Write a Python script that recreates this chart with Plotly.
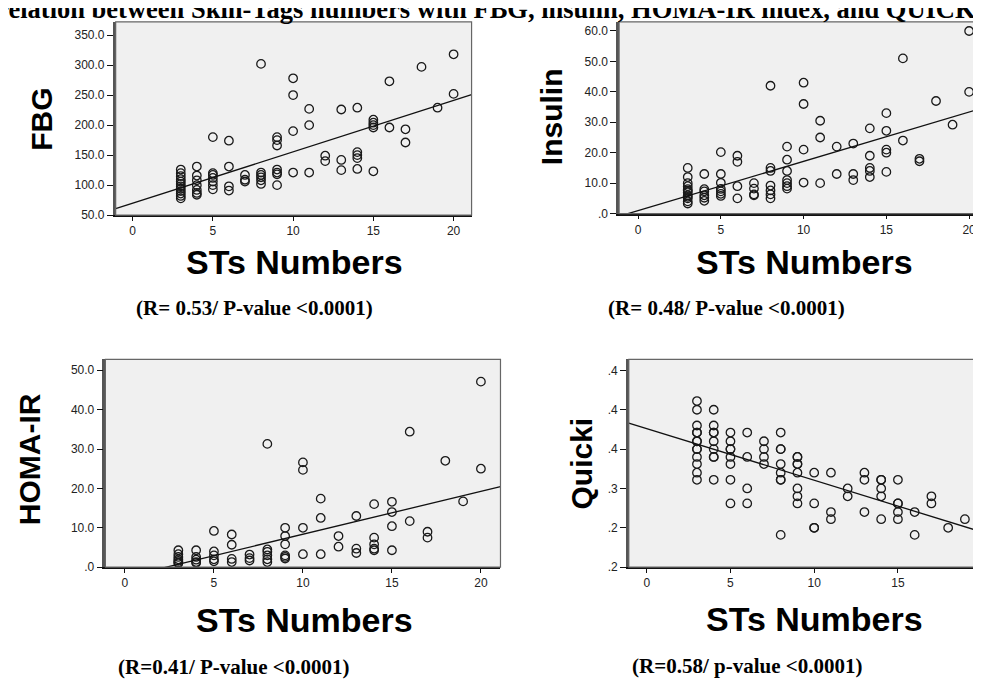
import plotly.graph_objects as go

W, H = 981, 680

# ---------------- data ----------------
fbg_sts = [3]*12 + [4]*7 + [5]*7 + [6]*4 + [7]*3 + [8]*6 + [9]*7 + [10]*4 + [11]*3 + [12]*2 + [13]*3 + [14]*5 + [15]*5 + [16]*2 + [17]*2 + [18] + [19] + [20]*2
fbg_values = [78, 82, 86, 90, 94, 98, 102, 106, 110, 115, 120, 126,
              84, 87, 92, 100, 108, 116, 131,
              180, 120, 117, 112, 106, 100, 93,
              174, 131, 98, 91,
              117, 109, 106,
              302, 121, 117, 113, 108, 102,
              180, 175, 166, 126, 121, 118, 100,
              278, 250, 190, 121,
              227, 200, 121,
              149, 140,
              226, 142, 125,
              229, 155, 150, 145, 127,
              209, 204, 200, 196, 123,
              273, 196,
              193, 171,
              297,
              229,
              318, 252]

ins_sts = [3]*12 + [4]*6 + [5]*7 + [6]*4 + [7]*4 + [8]*7 + [9]*7 + [10]*4 + [11]*3 + [12]*2 + [13]*3 + [14]*5 + [15]*5 + [16]*2 + [17]*2 + [18] + [19] + [20]*2
ins_values = [15, 12, 10, 9, 8, 7.5, 7, 6, 5.5, 5, 4, 3.3,
              13, 8, 7.3, 6, 5.2, 4.2,
              20.2, 13, 10.1, 8.1, 7.3, 6.5, 5.8,
              19, 17, 9, 5,
              10, 8.2, 6.3, 6,
              42, 15, 14, 9.2, 7.6, 6.3, 5,
              22, 17.7, 14, 11, 10, 9, 8.2,
              43, 36, 21, 10.2,
              30.5, 25, 10,
              22, 13,
              23, 13, 11,
              28, 19, 15, 14, 12,
              33, 27.2, 21, 20, 13.7,
              51, 24,
              18, 17.2,
              37,
              29.2,
              60, 40]

homa_sts = [3]*7 + [4]*5 + [5]*5 + [6]*4 + [7]*3 + [8]*6 + [9]*6 + [10]*4 + [11]*3 + [12]*2 + [13]*3 + [14]*5 + [15]*4 + [16]*2 + [17]*2 + [18] + [19] + [20]*2
homa_values = [4.3, 3.3, 2.6, 2.0, 1.6, 1.2, 1.0,
               4.3, 2.6, 1.9, 1.3, 1.1,
               9.2, 4.0, 3.0, 2.0, 1.5,
               8.3, 5.7, 2.1, 1.3,
               3.2, 2.3, 1.7,
               31.3, 4.5, 3.9, 3.0, 2.0, 1.3,
               10.0, 7.9, 5.8, 3.0, 2.6, 2.2,
               26.6, 24.7, 10.0, 3.3,
               17.4, 12.5, 3.3,
               7.9, 5.2,
               13.0, 4.7, 3.6,
               16.0, 7.5, 5.8, 4.7, 4.3,
               16.6, 14.0, 10.4, 4.3,
               34.4, 11.7,
               9.0, 7.5,
               27.0,
               16.7,
               47.1, 25.0]

quicki_sts = [3]*13 + [4]*9 + [5]*8 + [6]*4 + [7]*4 + [8]*8 + [9]*8 + [10]*4 + [11]*3 + [12]*2 + [13]*3 + [14]*5 + [15]*5 + [16]*2 + [17]*2 + [18] + [19] + [20]*2
quicki_values = [0.411, 0.400, 0.380, 0.371, 0.371, 0.360, 0.360, 0.350, 0.350, 0.340, 0.331, 0.320, 0.311,
                 0.400, 0.380, 0.371, 0.371, 0.360, 0.350, 0.340, 0.340, 0.311,
                 0.371, 0.360, 0.350, 0.350, 0.340, 0.331, 0.311, 0.281,
                 0.371, 0.340, 0.300, 0.281,
                 0.360, 0.350, 0.340, 0.331,
                 0.371, 0.350, 0.350, 0.331, 0.320, 0.311, 0.311, 0.241,
                 0.340, 0.340, 0.331, 0.331, 0.320, 0.300, 0.290, 0.281,
                 0.320, 0.281, 0.250, 0.250,
                 0.320, 0.270, 0.261,
                 0.300, 0.290,
                 0.320, 0.311, 0.270,
                 0.311, 0.311, 0.300, 0.290, 0.261,
                 0.311, 0.281, 0.281, 0.270, 0.261,
                 0.270, 0.241,
                 0.290, 0.281,
                 0.250,
                 0.261,
                 0.250, 0.230]

# fitted regression lines (intercept, slope)
fit_intercepts = [69.9, 0.97, -2.52, 0.376]
fit_slopes = [8.56, 1.62, 1.088, -0.00656]

y_titles = ["FBG", "Insulin", "HOMA-IR", "Quicki"]
x_title = "STs Numbers"
stats_texts = ["(R= 0.53/ P-value <0.0001)", "(R= 0.48/ P-value <0.0001)",
               "(R=0.41/ P-value <0.0001)", "(R=0.58/ p-value <0.0001)"]
main_title = "Correlation between Skin-Tags numbers with FBG, insulin, HOMA-IR index, and QUICKI"

x_tickvals = [0, 5, 10, 15, 20]
x_ticktext = ["0", "5", "10", "15", "20"]
fbg_tickvals = [50, 100, 150, 200, 250, 300, 350]
fbg_ticktext = ["50.0", "100.0", "150.0", "200.0", "250.0", "300.0", "350.0"]
ins_tickvals = [0, 10, 20, 30, 40, 50, 60]
ins_ticktext = [".0", "10.0", "20.0", "30.0", "40.0", "50.0", "60.0"]
homa_tickvals = [0, 10, 20, 30, 40, 50]
homa_ticktext = [".0", "10.0", "20.0", "30.0", "40.0", "50.0"]
quicki_tickvals = [0.20, 0.25, 0.30, 0.35, 0.40, 0.45]
quicki_ticktext = [".2", ".2", ".3", ".4", ".4", ".4"]

# ---------------- layout geometry (pixels) ----------------
def fx(p):
    return p / W

def fy(p):
    return 1 - p / H

panels = [
    dict(x=fbg_sts, y=fbg_values, xd=(108, 465), yd=(14, 209.3), xr=(-1.056, 21.12), yr=(50, 372),
         tv=fbg_tickvals, tt=fbg_ticktext,
         ytitle_pos=(34, 112), xtitle_pos=(287, 257), stats_pos=(247, 303)),
    dict(x=ins_sts, y=ins_values, xd=(613, 981), yd=(14, 207.7), xr=(-1.145, 21.02), yr=(0, 63),
         tv=ins_tickvals, tt=ins_ticktext,
         ytitle_pos=(546, 110), xtitle_pos=(799, 257), stats_pos=(721, 303)),
    dict(x=homa_sts, y=homa_values, xd=(97.7, 494), yd=(355, 565), xr=(-1.098, 21.1), yr=(0, 52.76),
         tv=homa_tickvals, tt=homa_ticktext,
         ytitle_pos=(21, 456), xtitle_pos=(297, 618), stats_pos=(227, 666)),
    dict(x=quicki_sts, y=quicki_values, xd=(622.7, 981), yd=(355, 565), xr=(-1.071, 20.26), yr=(0.20, 0.464),
         tv=quicki_tickvals, tt=quicki_ticktext,
         ytitle_pos=(575, 460), xtitle_pos=(809, 617), stats_pos=(741, 665)),
]

fig = go.Figure()
annotations = []
shapes = []
tickfont = dict(family="Liberation Sans, Arial", size=12, color="#222")

for i, p in enumerate(panels):
    n = "" if i == 0 else str(i + 1)
    xa, ya = "x" + n, "y" + n
    fig.add_trace(go.Scatter(
        x=p["x"], y=p["y"], mode="markers", xaxis=xa, yaxis=ya, showlegend=False,
        marker=dict(symbol="circle-open", size=8.5, color="#1a1a1a", line=dict(width=1.3, color="#1a1a1a")),
        cliponaxis=True))
    lx = [p["xr"][0], p["xr"][1]]
    ly = [fit_intercepts[i] + fit_slopes[i] * v for v in lx]
    fig.add_trace(go.Scatter(x=lx, y=ly, mode="lines", xaxis=xa, yaxis=ya, showlegend=False,
                             line=dict(color="#111", width=1.3)))
    fig.update_layout(**{
        "xaxis" + n: dict(domain=[fx(p["xd"][0]), min(1.0, fx(p["xd"][1]))], range=list(p["xr"]),
                          anchor=ya, tickvals=x_tickvals, ticktext=x_ticktext, showgrid=False,
                          zeroline=False, showline=True, linecolor="#111", linewidth=1.5,
                          ticks="outside", ticklen=4, tickcolor="#111", tickwidth=1.2,
                          tickfont=tickfont, ticklabeloverflow="allow", ticklabelstandoff=0),
        "yaxis" + n: dict(domain=[fy(p["yd"][1]), fy(p["yd"][0])], range=list(p["yr"]),
                          anchor=xa, tickvals=p["tv"], ticktext=p["tt"], showgrid=False,
                          zeroline=False, showline=True, linecolor="#555", linewidth=2.5,
                          ticks="outside", ticklen=6, tickcolor="#111", tickwidth=1.2,
                          tickfont=tickfont),
    })
    shapes.append(dict(type="rect", xref=xa + " domain", yref=ya + " domain", x0=0, x1=1, y0=0, y1=1,
                       line=dict(color="#666", width=1.2), fillcolor="rgba(0,0,0,0)", layer="above"))
    annotations.append(dict(text="<b>%s</b>" % y_titles[i], x=fx(p["ytitle_pos"][0]), y=fy(p["ytitle_pos"][1]),
                            xref="paper", yref="paper", showarrow=False, textangle=-90,
                            font=dict(family="Liberation Sans, Arial", size=30, color="#000"),
                            xanchor="center", yanchor="middle"))
    annotations.append(dict(text="<b>%s</b>" % x_title, x=fx(p["xtitle_pos"][0]), y=fy(p["xtitle_pos"][1]),
                            xref="paper", yref="paper", showarrow=False,
                            font=dict(family="Liberation Sans, Arial", size=34, color="#000"),
                            xanchor="center", yanchor="middle"))
    annotations.append(dict(text="<b>%s</b>" % stats_texts[i], x=fx(p["stats_pos"][0]), y=fy(p["stats_pos"][1]),
                            xref="paper", yref="paper", showarrow=False,
                            font=dict(family="Liberation Serif, Times New Roman", size=21, color="#000"),
                            xanchor="center", yanchor="middle"))

annotations.append(dict(text="<b>%s</b>" % main_title, x=fx(-57), y=fy(1), xref="paper", yref="paper",
                        showarrow=False, xanchor="left", yanchor="middle",
                        font=dict(family="Liberation Serif, Times New Roman", size=26.5, color="#000")))

fig.update_layout(width=W, height=H, margin=dict(l=0, r=0, t=0, b=0),
                  paper_bgcolor="white", plot_bgcolor="#f0f0f0",
                  annotations=annotations, shapes=shapes, showlegend=False)

fig.write_html("out.html")
